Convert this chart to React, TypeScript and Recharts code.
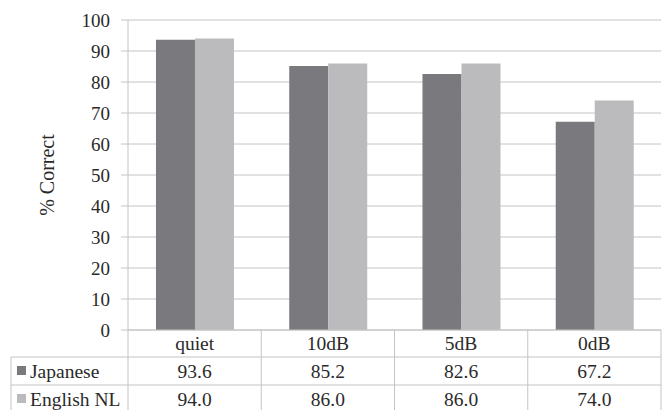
import { BarChart, Bar, XAxis, YAxis, CartesianGrid } from "recharts";

const categories = ["quiet", "10dB", "5dB", "0dB"];
const japanese = [93.6, 85.2, 82.6, 67.2];
const englishNL = [94.0, 86.0, 86.0, 74.0];
const seriesNames = ["Japanese", "English NL"];
const yTicks = [0, 10, 20, 30, 40, 50, 60, 70, 80, 90, 100];

const data = categories.map((c, i) => ({ category: c, japanese: japanese[i], english: englishNL[i] }));
const seriesValues = [japanese, englishNL];

const FONT = "Liberation Serif, DejaVu Serif";
const TEXT = "#2a2a2a";
const LINE = "#c4c4c4";
const COLORS = ["#7a7a7e", "#bbbbbd"];
const ROW_H = [27, 28, 28];
const TABLE_LEFT = 11;
const txt = { fontFamily: FONT, fontSize: 19.5 };

function TableTick(props: any) {
  const { x, y, payload, index } = props;
  const half = payload && payload.offset ? payload.offset : 66.7;
  const left = x - half;
  const right = x + half;
  const r1 = y + ROW_H[0];
  const r2 = r1 + ROW_H[1];
  const bottom = r2 + ROW_H[2];
  return (
    <g>
      <line x1={right} y1={y} x2={right} y2={bottom} stroke={LINE} />
      <line x1={left} y1={r1} x2={right} y2={r1} stroke={LINE} />
      <line x1={left} y1={r2} x2={right} y2={r2} stroke={LINE} />
      {index === 0 && (
        <g>
          <line x1={left} y1={y} x2={left} y2={bottom} stroke={LINE} />
          <line x1={TABLE_LEFT} y1={r1} x2={left} y2={r1} stroke={LINE} />
          <line x1={TABLE_LEFT} y1={r2} x2={left} y2={r2} stroke={LINE} />
          <line x1={TABLE_LEFT} y1={r1} x2={TABLE_LEFT} y2={bottom} stroke={LINE} />
          {seriesNames.map((n, k) => {
            const top = k === 0 ? r1 : r2;
            const mid = top + ROW_H[k + 1] / 2;
            return (
              <g key={n}>
                <rect x={17} y={mid - 5} width={9} height={9} fill={COLORS[k]} />
                <text x={30} y={mid + 6.5} fill={TEXT} fontFamily={FONT} fontSize={19.5}>
                  {n}
                </text>
              </g>
            );
          })}
        </g>
      )}
      <text x={x} y={y + ROW_H[0] / 2 + 6.5} textAnchor="middle" fill={TEXT} fontFamily={FONT} fontSize={19.5}>
        {payload.value}
      </text>
      {seriesValues.map((vals, k) => {
        const top = k === 0 ? r1 : r2;
        const mid = top + ROW_H[k + 1] / 2;
        return (
          <text key={k} x={x} y={mid + 6.5} textAnchor="middle" fill={TEXT} fontFamily={FONT} fontSize={19.5}>
            {vals[index].toFixed(1)}
          </text>
        );
      })}
    </g>
  );
}

function YLabel(props: any) {
  const vb = props.viewBox || { x: 0, y: 20, width: 128, height: 310 };
  const cx = vb.x + 47;
  const cy = vb.y + vb.height / 2;
  return (
    <text
      x={cx}
      y={cy}
      transform={`rotate(-90 ${cx} ${cy})`}
      textAnchor="middle"
      dominantBaseline="central"
      fill={TEXT}
      fontFamily={FONT}
      fontSize={20}
    >
      % Correct
    </text>
  );
}

export default function App() {
  return (
    <div style={{ position: "absolute", left: 0, top: 0, background: "#fff" }}>
      <BarChart
        width={663}
        height={410}
        data={data}
        margin={{ top: 20, right: 2, left: 0, bottom: 0 }}
        barGap={0}
        barCategoryGap="21%"
      >
        <CartesianGrid vertical={false} stroke={LINE} />
        <XAxis
          dataKey="category"
          height={80}
          interval={0}
          tickLine={false}
          tickSize={0}
          tickMargin={0}
          axisLine={{ stroke: LINE }}
          tick={<TableTick />}
        />
        <YAxis
          width={128}
          domain={[0, 100]}
          ticks={yTicks}
          interval={0}
          tickSize={7}
          tickMargin={11}
          tickLine={{ stroke: LINE }}
          axisLine={{ stroke: LINE }}
          tick={{ fill: TEXT, fontSize: 19, fontFamily: FONT }}
          label={{ content: <YLabel /> }}
        />
        <Bar dataKey="japanese" name="Japanese" fill={COLORS[0]} isAnimationActive={false} />
        <Bar dataKey="english" name="English NL" fill={COLORS[1]} isAnimationActive={false} />
      </BarChart>
    </div>
  );
}
